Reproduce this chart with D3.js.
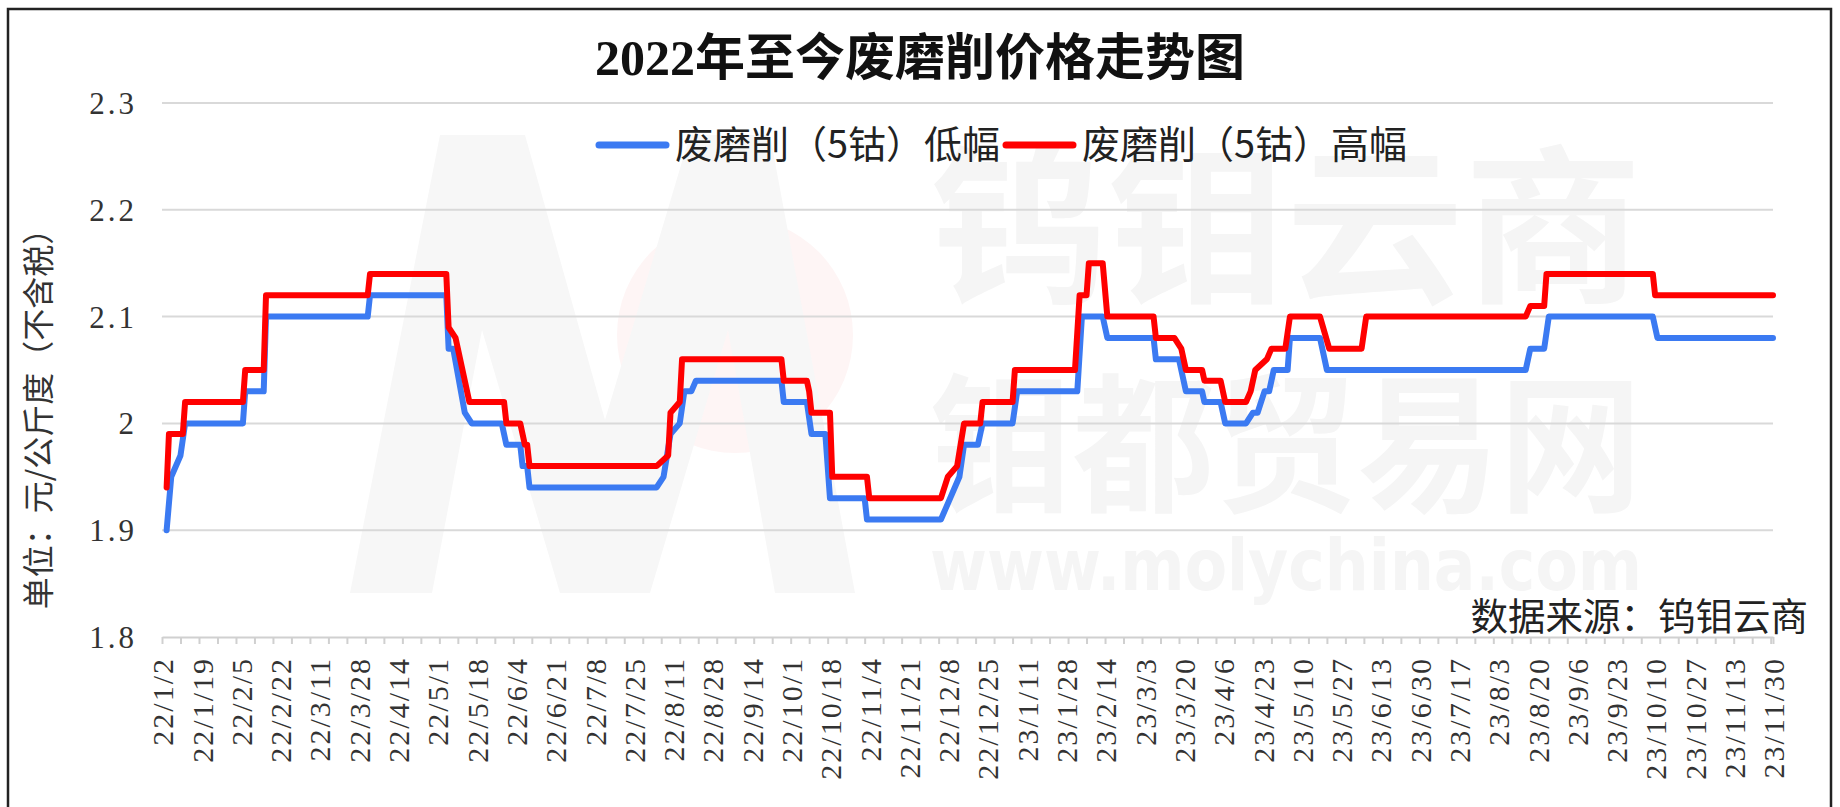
<!DOCTYPE html>
<html>
<head>
<meta charset="utf-8">
<script src="https://cdn.jsdelivr.net/npm/d3@7"></script>
<style>
  body { margin: 0; background: #fff; }
  svg { display: block; }
</style>
</head>
<body>
<script>
// data (change points of the daily price series)
var lowDates = ["2022-01-04","2022-01-06","2022-01-10","2022-01-12","2022-02-06","2022-02-07","2022-02-15","2022-02-16",
  "2022-04-01","2022-04-02","2022-05-05","2022-05-06","2022-05-08","2022-05-13","2022-05-16","2022-05-29","2022-05-31",
  "2022-06-06","2022-06-07","2022-06-09","2022-06-10","2022-08-04","2022-08-07","2022-08-10","2022-08-14","2022-08-16",
  "2022-08-19","2022-08-21","2022-09-27","2022-09-28","2022-10-08","2022-10-10","2022-10-16","2022-10-18","2022-11-02",
  "2022-11-03","2022-12-05","2022-12-07","2022-12-11","2022-12-13","2022-12-15","2022-12-21","2022-12-23","2023-01-05",
  "2023-01-07","2023-02-02","2023-02-04","2023-02-13","2023-02-15","2023-03-07","2023-03-08","2023-03-18","2023-03-21",
  "2023-03-28","2023-03-29","2023-04-05","2023-04-07","2023-04-16","2023-04-19","2023-04-21","2023-04-24","2023-04-26",
  "2023-04-28","2023-05-04","2023-05-05","2023-05-18","2023-05-21","2023-08-15","2023-08-17","2023-08-23","2023-08-25",
  "2023-10-09","2023-10-11","2023-11-30"];
var lowValues = [1.90,1.95,1.97,2.00,2.00,2.03,2.03,2.10,
  2.10,2.12,2.12,2.07,2.07,2.01,2.00,2.00,1.98,
  1.98,1.96,1.96,1.94,1.94,1.95,1.99,2.00,2.03,
  2.03,2.04,2.04,2.02,2.02,1.99,1.99,1.93,1.93,
  1.91,1.91,1.92,1.94,1.95,1.98,1.98,2.00,2.00,
  2.03,2.03,2.10,2.10,2.08,2.08,2.06,2.06,2.03,
  2.03,2.02,2.02,2.00,2.00,2.01,2.01,2.03,2.03,
  2.05,2.05,2.08,2.08,2.05,2.05,2.07,2.07,2.10,
  2.10,2.08,2.08];

var highDates = ["2022-01-04","2022-01-05","2022-01-11","2022-01-12","2022-02-06","2022-02-07","2022-02-15","2022-02-16",
  "2022-04-01","2022-04-02","2022-05-05","2022-05-06","2022-05-09","2022-05-15","2022-05-30","2022-05-31","2022-06-06",
  "2022-06-08","2022-06-09","2022-06-10","2022-08-04","2022-08-09","2022-08-10","2022-08-14","2022-08-15","2022-09-27",
  "2022-09-28","2022-10-08","2022-10-09","2022-10-10","2022-10-18","2022-10-19","2022-11-03","2022-11-04","2022-12-05",
  "2022-12-08","2022-12-12","2022-12-15","2022-12-22","2022-12-23","2023-01-05","2023-01-06","2023-02-01","2023-02-03",
  "2023-02-06","2023-02-07","2023-02-13","2023-02-15","2023-03-07","2023-03-08","2023-03-16","2023-03-19","2023-03-21",
  "2023-03-28","2023-03-29","2023-04-05","2023-04-07","2023-04-16","2023-04-18","2023-04-20","2023-04-25","2023-04-27",
  "2023-05-03","2023-05-05","2023-05-18","2023-05-22","2023-06-05","2023-06-07","2023-08-15","2023-08-17","2023-08-23",
  "2023-08-24","2023-10-09","2023-10-10","2023-11-30"];
var highValues = [1.94,1.99,1.99,2.02,2.02,2.05,2.05,2.12,
  2.12,2.14,2.14,2.09,2.08,2.02,2.02,2.00,2.00,
  1.98,1.98,1.96,1.96,1.97,2.01,2.02,2.06,2.06,
  2.04,2.04,2.03,2.01,2.01,1.95,1.95,1.93,1.93,
  1.95,1.96,2.00,2.00,2.02,2.02,2.05,2.05,2.12,
  2.12,2.15,2.15,2.10,2.10,2.08,2.08,2.07,2.05,
  2.05,2.04,2.04,2.02,2.02,2.03,2.05,2.06,2.07,
  2.07,2.10,2.10,2.07,2.07,2.10,2.10,2.11,2.11,
  2.14,2.14,2.12,2.12];

var tickLabels = ["22/1/2","22/1/19","22/2/5","22/2/22","22/3/11","22/3/28","22/4/14","22/5/1","22/5/18","22/6/4",
  "22/6/21","22/7/8","22/7/25","22/8/11","22/8/28","22/9/14","22/10/1","22/10/18","22/11/4","22/11/21","22/12/8",
  "22/12/25","23/1/11","23/1/28","23/2/14","23/3/3","23/3/20","23/4/6","23/4/23","23/5/10","23/5/27","23/6/13",
  "23/6/30","23/7/17","23/8/3","23/8/20","23/9/6","23/9/23","23/10/10","23/10/27","23/11/13","23/11/30"];
var yTicks = [1.8, 1.9, 2.0, 2.1, 2.2, 2.3];
var seriesNames = ["废磨削（5钴）低幅", "废磨削（5钴）高幅"];
var seriesColors = ["#3b7af2", "#ff0000"];

var titleText = "2022年至今废磨削价格走势图";
var yTitle = "单位：元/公斤度（不含税）";
var sourceText = "数据来源：钨钼云商";

var W = 1840, H = 807;
var margin = {top: 103, right: 67, bottom: 170, left: 162};
var serif = "'Liberation Serif', 'Noto Sans CJK SC', serif";
var cjk = "'Noto Sans CJK SC', sans-serif";

var parseDay = d3.timeParse("%Y-%m-%d");
var parseTick = d3.timeParse("%y/%m/%d");

var lowData = lowDates.map(function (d, i) { return {date: parseDay(d), value: lowValues[i]}; });
var highData = highDates.map(function (d, i) { return {date: parseDay(d), value: highValues[i]}; });
var tickDates = tickLabels.map(function (t) { return parseTick(t); });

var x = d3.scaleTime()
  .domain([tickDates[0], tickDates[tickDates.length - 1]])
  .range([margin.left, W - margin.right]);
var y = d3.scaleLinear()
  .domain([1.8, 2.3])
  .range([H - margin.bottom, margin.top]);

var svg = d3.select("body").append("svg")
  .attr("width", W)
  .attr("height", H);

svg.append("rect").attr("width", W).attr("height", H).attr("fill", "#fff");

// watermark (very faint)
var wm = svg.append("g").attr("class", "watermark");
wm.append("circle").attr("cx", 735).attr("cy", 335).attr("r", 118).attr("fill", "#fef5f5");
wm.append("path")
  .attr("d", "M350,593 L440,135 L525,135 L605,420 L690,135 L770,135 L855,593 L775,593 L728,330 L650,593 L560,593 L482,330 L432,593 Z")
  .attr("fill", "#f7f7f7");
wm.append("text").attr("x", 930).attr("y", 290)
  .attr("textLength", 712).attr("lengthAdjust", "spacingAndGlyphs")
  .style("font-family", cjk).style("font-weight", "bold").style("font-size", "170px")
  .attr("fill", "#f5f5f5").text("钨钼云商");
wm.append("text").attr("x", 930).attr("y", 500)
  .attr("textLength", 712).attr("lengthAdjust", "spacingAndGlyphs")
  .style("font-family", cjk).style("font-weight", "bold").style("font-size", "150px")
  .attr("fill", "#f5f5f5").text("钼都贸易网");
wm.append("text").attr("x", 930).attr("y", 590)
  .attr("textLength", 712).attr("lengthAdjust", "spacingAndGlyphs")
  .style("font-family", "'DejaVu Sans', sans-serif").style("font-weight", "bold").style("font-size", "72px")
  .attr("fill", "#f5f5f5").text("www.molychina.com");

// gridlines
svg.append("g")
  .selectAll("line")
  .data(yTicks.slice(1))
  .enter().append("line")
  .attr("x1", margin.left).attr("x2", W - margin.right)
  .attr("y1", function (d) { return y(d); })
  .attr("y2", function (d) { return y(d); })
  .attr("stroke", "#d9d9d9")
  .attr("stroke-width", 2);

// y labels
var yAxis = svg.append("g")
  .attr("transform", "translate(" + (margin.left - 22) + ",0)")
  .call(d3.axisLeft(y).tickValues(yTicks).tickSize(0)
    .tickFormat(function (d) { return String(+d.toFixed(1)); }));
yAxis.select(".domain").remove();
yAxis.selectAll("text")
  .style("font-family", serif).style("font-size", "31px")
  .style("letter-spacing", "3px")
  .attr("fill", "#333").attr("dy", "0.34em");

// x axis: tick marks every 8 days, labels every 17 days
var x0 = tickDates[0], x1 = tickDates[tickDates.length - 1];
var minorTicks = d3.timeDay.range(x0, d3.timeDay.offset(x1, 1), 8);
minorTicks.push(x1);
var xTicks = svg.append("g")
  .attr("transform", "translate(0," + y(1.8) + ")")
  .call(d3.axisBottom(x).tickValues(minorTicks).tickSize(7).tickSizeOuter(0).tickFormat(""));
xTicks.select(".domain").attr("stroke", "#d0d0d0").attr("stroke-width", 2);
xTicks.selectAll(".tick line").attr("stroke", "#d0d0d0").attr("stroke-width", 2);

var xLabels = svg.append("g")
  .attr("transform", "translate(0," + (y(1.8) + 20) + ")")
  .call(d3.axisBottom(x).tickValues(tickDates).tickSize(0)
    .tickFormat(function (d, i) { return tickLabels[i]; }));
xLabels.select(".domain").remove();
xLabels.selectAll("text")
  .style("font-family", serif).style("font-size", "30px")
  .style("letter-spacing", "2px")
  .attr("fill", "#333")
  .attr("text-anchor", "end")
  .attr("transform", "rotate(-90)")
  .attr("x", 0).attr("y", 0).attr("dy", "0.36em");

// lines
var line = d3.line()
  .x(function (d) { return x(d.date); })
  .y(function (d) { return y(d.value); });

svg.append("g")
  .selectAll("path")
  .data([lowData, highData])
  .enter().append("path")
  .attr("d", line)
  .attr("fill", "none")
  .attr("stroke", function (d, i) { return seriesColors[i]; })
  .attr("stroke-width", 6)
  .attr("stroke-linejoin", "round")
  .attr("stroke-linecap", "round");

// title
svg.append("text")
  .attr("x", 920).attr("y", 75)
  .attr("text-anchor", "middle")
  .style("font-family", serif).style("font-size", "50px").style("font-weight", "bold")
  .attr("fill", "#111")
  .text(titleText);

// legend
var legendX = [599, 1006];
var legend = svg.append("g").selectAll("g")
  .data(seriesNames)
  .enter().append("g")
  .attr("transform", function (d, i) { return "translate(" + legendX[i] + ",145)"; });
legend.append("line")
  .attr("x1", 0).attr("x2", 67)
  .attr("stroke", function (d, i) { return seriesColors[i]; })
  .attr("stroke-width", 7).attr("stroke-linecap", "round");
legend.append("text")
  .attr("x", 76).attr("y", 13)
  .style("font-family", cjk).style("font-size", "38px")
  .attr("fill", "#222")
  .text(function (d) { return d; });

// y axis title
svg.append("text")
  .attr("transform", "translate(39,411) rotate(-90)")
  .attr("text-anchor", "middle").attr("dy", "0.35em")
  .style("font-family", cjk).style("font-size", "32px")
  .attr("fill", "#333")
  .text(yTitle);

// source
svg.append("text")
  .attr("x", 1808).attr("y", 630)
  .attr("text-anchor", "end")
  .style("font-family", cjk).style("font-size", "37.5px")
  .attr("fill", "#222")
  .text(sourceText);

// frame
svg.append("rect")
  .attr("x", 8).attr("y", 9)
  .attr("width", 1823).attr("height", 808)
  .attr("fill", "none")
  .attr("stroke", "#222")
  .attr("stroke-width", 2.5);
</script>
</body>
</html>
